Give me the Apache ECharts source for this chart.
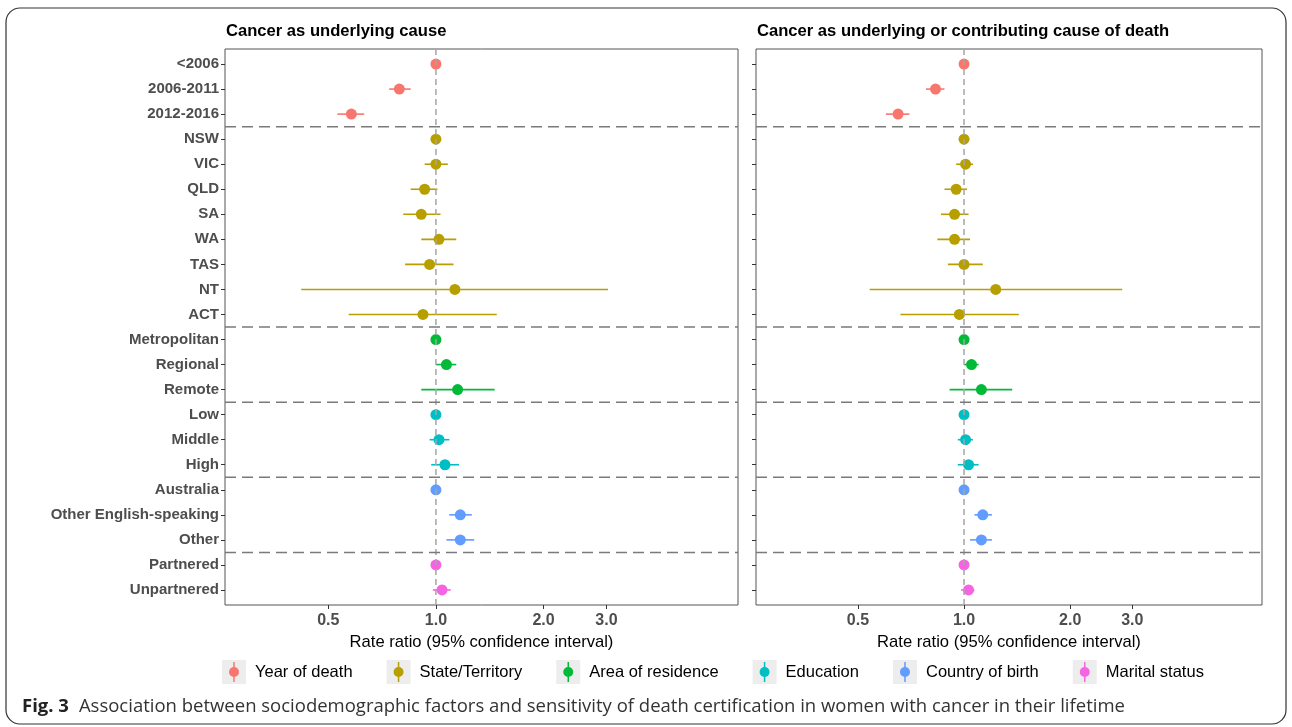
<!DOCTYPE html>
<html>
<head>
<meta charset="utf-8">
<script src="https://cdn.jsdelivr.net/npm/echarts@6/dist/echarts.min.js"></script>
<style>
  html, body { margin: 0; padding: 0; background: #fff; }
  #grafico { width: 1292px; height: 727px; }
</style>
</head>
<body>
<div id="grafico"></div>
<script>
// Filas del forest plot (de arriba a abajo)
var etiquetas = ['<2006', '2006-2011', '2012-2016', 'NSW', 'VIC', 'QLD', 'SA', 'WA', 'TAS', 'NT', 'ACT',
  'Metropolitan', 'Regional', 'Remote', 'Low', 'Middle', 'High',
  'Australia', 'Other English-speaking', 'Other', 'Partnered', 'Unpartnered'];
// Grupo de cada fila (índice en nombresGrupo)
var grupos = [0, 0, 0, 1, 1, 1, 1, 1, 1, 1, 1, 2, 2, 2, 3, 3, 3, 4, 4, 4, 5, 5];
var nombresGrupo = ['Year of death', 'State/Territory', 'Area of residence', 'Education', 'Country of birth', 'Marital status'];
var colores = ['#F8766D', '#B79F00', '#00BA38', '#00BFC4', '#619CFF', '#F564E3'];

// Panel 1: cáncer como causa subyacente
var rr1 = [1.00, 0.79, 0.58, 1.00, 1.00, 0.93, 0.91, 1.02, 0.96, 1.13, 0.92, 1.00, 1.07, 1.15, 1.00, 1.02, 1.06, 1.00, 1.17, 1.17, 1.00, 1.04];
var lo1 = [1.00, 0.74, 0.53, 1.00, 0.93, 0.85, 0.81, 0.91, 0.82, 0.42, 0.57, 1.00, 1.00, 0.91, 1.00, 0.96, 0.97, 1.00, 1.09, 1.07, 1.00, 0.98];
var hi1 = [1.00, 0.85, 0.63, 1.00, 1.08, 1.01, 1.03, 1.14, 1.12, 3.03, 1.48, 1.00, 1.14, 1.46, 1.00, 1.09, 1.16, 1.00, 1.26, 1.28, 1.00, 1.10];

// Panel 2: cáncer como causa subyacente o contribuyente
var rr2 = [1.00, 0.83, 0.65, 1.00, 1.01, 0.95, 0.94, 0.94, 1.00, 1.23, 0.97, 1.00, 1.05, 1.12, 1.00, 1.01, 1.03, 1.00, 1.13, 1.12, 1.00, 1.03];
var lo2 = [1.00, 0.78, 0.60, 1.00, 0.95, 0.88, 0.86, 0.84, 0.90, 0.54, 0.66, 1.00, 1.00, 0.91, 1.00, 0.96, 0.96, 1.00, 1.07, 1.04, 1.00, 0.98];
var hi2 = [1.00, 0.88, 0.70, 1.00, 1.06, 1.02, 1.03, 1.04, 1.13, 2.81, 1.43, 1.00, 1.10, 1.37, 1.00, 1.06, 1.10, 1.00, 1.20, 1.20, 1.00, 1.07];

var ticksX = [0.5, 1, 2, 3];
var titulos = ['Cancer as underlying cause', 'Cancer as underlying or contributing cause of death'];
var nombreEjeX = 'Rate ratio (95% confidence interval)';
var pie = 'Association between sociodemographic factors and sensitivity of death certification in women with cancer in their lifetime';

var fuente = 'Liberation Sans, Arial, sans-serif';
var indices = etiquetas.map(function (e, i) { return i; });

// líneas de corte entre grupos
var cortes = [];
for (var i = 1; i < grupos.length; i++) {
  if (grupos[i] !== grupos[i - 1]) cortes.push(i - 0.5);
}

function datosPanel(rr, lo, hi) {
  return rr.map(function (v, i) { return [v, i, lo[i], hi[i], grupos[i]]; });
}

// punto + intervalo de confianza
function dibujarIC(params, api) {
  var y = api.value(1);
  var p = api.coord([api.value(0), y]);
  var a = api.coord([api.value(2), y]);
  var b = api.coord([api.value(3), y]);
  var color = colores[api.value(4)];
  return {
    type: 'group',
    children: [
      { type: 'line', shape: { x1: a[0], y1: a[1], x2: b[0], y2: b[1] }, style: { stroke: color, lineWidth: 1.6 } },
      { type: 'circle', shape: { cx: p[0], cy: p[1], r: 5.5 }, style: { fill: color } }
    ]
  };
}

function dibujarCorte(params, api) {
  var cs = params.coordSys;
  var y = api.coord([1, api.value(0)])[1];
  return { type: 'line', shape: { x1: cs.x, y1: y, x2: cs.x + cs.width, y2: y },
    style: { stroke: '#7a7a7a', lineWidth: 1.5, lineDash: [11, 6] } };
}

function dibujarRef(params, api) {
  var cs = params.coordSys;
  var x = api.coord([api.value(0), 0])[0];
  return { type: 'line', shape: { x1: x, y1: cs.y, x2: x, y2: cs.y + cs.height },
    style: { stroke: '#a6a6a6', lineWidth: 1.5, lineDash: [6, 4] } };
}

function ejeX(g) {
  return {
    type: 'log', gridIndex: g, logBase: 10, min: 0.257, max: 7.0,
    axisLine: { show: false, onZero: false }, splitLine: { show: false }, minorTick: { show: false },
    axisTick: { show: true, customValues: ticksX, length: 4, lineStyle: { color: '#333' } },
    axisLabel: { customValues: ticksX, formatter: function (v) { return Number(v).toFixed(1); },
      fontFamily: fuente, fontWeight: 'bold', fontSize: 16, color: '#4d4d4d', margin: 8 },
    name: nombreEjeX, nameLocation: 'middle', nameGap: 23,
    nameTextStyle: { fontFamily: fuente, fontSize: 16.6, color: '#000' }
  };
}

function ejeY(g, conEtiquetas) {
  return {
    type: 'value', gridIndex: g, min: -0.6, max: 21.6, inverse: true,
    axisLine: { show: false, onZero: false }, splitLine: { show: false },
    axisTick: { show: true, customValues: indices, length: 4, lineStyle: { color: '#333' } },
    axisLabel: { show: conEtiquetas, customValues: indices, formatter: function (v) { return etiquetas[Math.round(v)]; },
      fontFamily: fuente, fontWeight: 'bold', fontSize: 15, color: '#4d4d4d', margin: 6 }
  };
}

// Leyenda dibujada a mano (llave gris con punto y línea)
var tamLey = 16.5;
var ctxMedida = document.createElement('canvas').getContext('2d');
ctxMedida.font = tamLey + 'px ' + fuente;
var leyenda = [];
var xLey = 222, yLey = 672;
nombresGrupo.forEach(function (nombre, i) {
  leyenda.push({ type: 'rect', shape: { x: xLey, y: yLey - 12, width: 24, height: 24 }, style: { fill: '#ededed' }, silent: true });
  leyenda.push({ type: 'line', shape: { x1: xLey + 12, y1: yLey - 10, x2: xLey + 12, y2: yLey + 10 }, style: { stroke: colores[i], lineWidth: 1.5 }, silent: true });
  leyenda.push({ type: 'circle', shape: { cx: xLey + 12, cy: yLey, r: 5 }, style: { fill: colores[i] }, silent: true });
  leyenda.push({ type: 'text', x: xLey + 33, y: yLey, style: { text: nombre, font: tamLey + 'px ' + fuente, fill: '#000', verticalAlign: 'middle' }, silent: true });
  xLey += 33 + ctxMedida.measureText(nombre).width + 34;
});

var grafico = echarts.init(document.getElementById('grafico'));
var opciones = {
  animation: false,
  title: [
    { text: titulos[0], left: 226, top: 23, padding: 0, textStyle: { fontFamily: fuente, fontSize: 16.6, fontWeight: 'bold', color: '#000' } },
    { text: titulos[1], left: 757, top: 23, padding: 0, textStyle: { fontFamily: fuente, fontSize: 16.6, fontWeight: 'bold', color: '#000' } }
  ],
  grid: [
    { left: 225, top: 49, width: 513, height: 556, show: true, borderColor: '#555', borderWidth: 1, backgroundColor: 'transparent' },
    { left: 756, top: 49, width: 506, height: 556, show: true, borderColor: '#555', borderWidth: 1, backgroundColor: 'transparent' }
  ],
  xAxis: [ejeX(0), ejeX(1)],
  yAxis: [ejeY(0, true), ejeY(1, false)],
  series: [
    { type: 'custom', xAxisIndex: 0, yAxisIndex: 0, renderItem: dibujarIC, data: datosPanel(rr1, lo1, hi1), encode: { x: [0, 2, 3], y: 1 }, z: 2 },
    { type: 'custom', xAxisIndex: 1, yAxisIndex: 1, renderItem: dibujarIC, data: datosPanel(rr2, lo2, hi2), encode: { x: [0, 2, 3], y: 1 }, z: 2 },
    { type: 'custom', xAxisIndex: 0, yAxisIndex: 0, renderItem: dibujarRef, data: [[1, 0]], encode: { x: 0, y: 1 }, z: 3, silent: true },
    { type: 'custom', xAxisIndex: 1, yAxisIndex: 1, renderItem: dibujarRef, data: [[1, 0]], encode: { x: 0, y: 1 }, z: 3, silent: true },
    { type: 'custom', xAxisIndex: 0, yAxisIndex: 0, renderItem: dibujarCorte, data: cortes.map(function (c) { return [c]; }), encode: { y: 0 }, z: 3, silent: true },
    { type: 'custom', xAxisIndex: 1, yAxisIndex: 1, renderItem: dibujarCorte, data: cortes.map(function (c) { return [c]; }), encode: { y: 0 }, z: 3, silent: true }
  ],
  graphic: [
    { type: 'rect', shape: { x: 6, y: 8, width: 1280, height: 716, r: 14 }, style: { fill: 'none', stroke: '#333', lineWidth: 1.2 }, silent: true },
    { type: 'group', children: leyenda },
    { type: 'text', x: 22, y: 707, silent: true,
      style: { text: '{a|Fig. 3}   {b|' + pie + '}', verticalAlign: 'middle',
        rich: { a: { fontFamily: 'Open Sans', fontWeight: 'bold', fontSize: 18.5, fill: '#222' },
                b: { fontFamily: 'Open Sans', fontSize: 18.5, fill: '#333' } } } }
  ]
};
grafico.setOption(opciones);
</script>
</body>
</html>
